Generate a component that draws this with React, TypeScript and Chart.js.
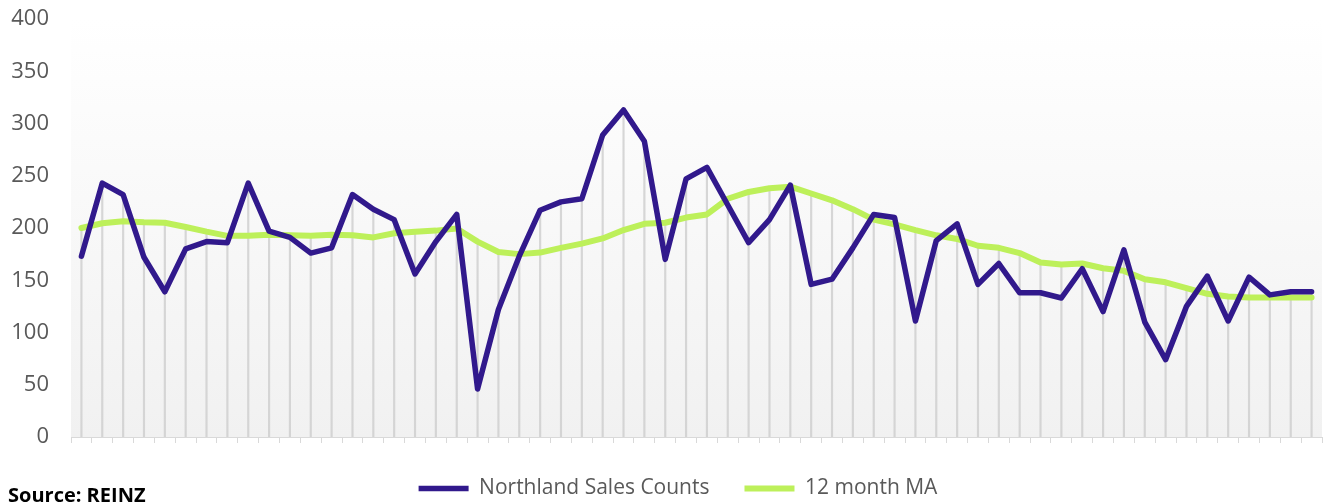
import React, { useEffect, useRef } from "react";
import { Chart, registerables } from "chart.js";

Chart.register(...registerables);

const categories: string[] = [
  "1","2","3","4","5","6","7","8","9","10",
  "11","12","13","14","15","16","17","18","19","20",
  "21","22","23","24","25","26","27","28","29","30",
  "31","32","33","34","35","36","37","38","39","40",
  "41","42","43","44","45","46","47","48","49","50",
  "51","52","53","54","55","56","57","58","59","60",
];

const salesCounts: number[] = [
  173, 243, 232, 172, 139, 180, 187, 186, 243, 197,
  191, 176, 181, 232, 218, 208, 156, 187, 213, 46,
  122, 173, 217, 225, 228, 289, 313, 283, 170, 247,
  258, 222, 186, 208, 241, 146, 151, 181, 213, 210,
  111, 188, 204, 146, 166, 138, 138, 133, 161, 120,
  179, 110, 74, 125, 154, 111, 153, 136, 139, 139,
];

const movingAverage: number[] = [
  200, 204.5, 206.5, 205.5, 205, 201, 196.5, 192.5, 192.5, 193.5,
  193, 192.5, 193.5, 193, 191, 195, 196.5, 197.5, 199.5, 187,
  177, 175, 176.5, 181, 185, 190, 198, 204, 205, 210,
  213, 228, 234.5, 238, 239.5, 233, 226.5, 218, 208, 203.5,
  198, 193, 189.5, 183, 181, 176, 167, 165, 166, 161.5,
  159, 151, 148, 142.5, 137, 134.5, 133.5, 133.5, 133.5, 133.5,
];

const seriesLabels = ["Northland Sales Counts", "12 month MA"];
const yTicks = { min: 0, max: 400, step: 50 };

const PURPLE = "#31198c";
const GREEN = "#bdf05a";
const FONT = "'Open Sans', 'DejaVu Sans', sans-serif";

const bgPlugin = {
  id: "plotBg",
  afterLayout(chart: any) {
    if (chart.legend) {
      chart.legend.left += 17;
      chart.legend.right += 17;
    }
  },
  beforeDatasetsDraw(chart: any) {
    const { ctx, chartArea } = chart;
    if (!chartArea) return;
    const g = ctx.createLinearGradient(0, chartArea.top, 0, chartArea.bottom);
    g.addColorStop(0, "#ffffff");
    g.addColorStop(1, "#f1f1f1");
    ctx.save();
    ctx.fillStyle = g;
    ctx.fillRect(chartArea.left, chartArea.top, chartArea.right - chartArea.left, chartArea.bottom - chartArea.top);
    ctx.restore();
  },
};

export default function App() {
  const ref = useRef<HTMLCanvasElement | null>(null);

  useEffect(() => {
    if (!ref.current) return;
    const dropLines = salesCounts.map((v, i) => Math.max(v, movingAverage[i]));
    const chart = new Chart(ref.current, {
      type: "bar",
      data: {
        labels: categories,
        datasets: [
          {
            type: "line",
            label: seriesLabels[0],
            data: salesCounts,
            borderColor: PURPLE,
            backgroundColor: PURPLE,
            borderWidth: 5.5,
            pointRadius: 0,
            tension: 0,
            borderCapStyle: "round",
            borderJoinStyle: "round",
            order: 1,
          } as any,
          {
            type: "line",
            label: seriesLabels[1],
            data: movingAverage,
            borderColor: GREEN,
            backgroundColor: GREEN,
            borderWidth: 6,
            pointRadius: 0,
            tension: 0,
            borderCapStyle: "round",
            borderJoinStyle: "round",
            order: 2,
          } as any,
          {
            type: "bar",
            label: "drop",
            data: dropLines,
            backgroundColor: "rgba(205,205,205,0.8)",
            barThickness: 1.5,
            order: 3,
          } as any,
        ],
      },
      options: {
        responsive: false,
        animation: false,
        layout: { padding: { top: 19, right: 6, left: 0, bottom: 0 } },
        plugins: {
          tooltip: { enabled: false },
          legend: {
            position: "bottom",
            labels: {
              filter: (item: any) => item.text !== "drop",
              usePointStyle: true,
              pointStyle: "line",
              pointStyleWidth: 50,
              padding: 35,
              color: "#595959",
              font: { family: FONT, size: 21 },
            },
          },
        },
        scales: {
          x: {
            offset: true,
            grid: {
              offset: true,
              display: true,
              drawOnChartArea: false,
              drawTicks: true,
              tickLength: 6,
              color: "#d9d9d9",
            },
            border: { display: true, color: "#d9d9d9", width: 1 },
            ticks: { display: false },
          },
          y: {
            min: yTicks.min,
            max: yTicks.max,
            grid: { display: false, drawTicks: true, tickLength: 22 },
            border: { display: false },
            ticks: {
              stepSize: yTicks.step,
              padding: 0,
              color: "#595959",
              font: { family: FONT, size: 22 },
            },
            afterFit: (scale: any) => {
              scale.width = 71;
            },
          },
        },
      } as any,
      plugins: [bgPlugin],
    });
    return () => chart.destroy();
  }, []);

  return (
    <div style={{ position: "absolute", left: 0, top: 0, width: 1328, height: 503, overflow: "hidden", background: "#fff" }}>
      <canvas ref={ref} width={1328} height={509} style={{ display: "block" }} />
      <div
        style={{
          position: "absolute",
          left: 8,
          top: 481,
          fontFamily: "'Open Sans', 'DejaVu Sans', sans-serif",
          fontWeight: 700,
          fontSize: 20,
          color: "#000",
          whiteSpace: "nowrap",
        }}
      >
        Source: REINZ
      </div>
    </div>
  );
}
